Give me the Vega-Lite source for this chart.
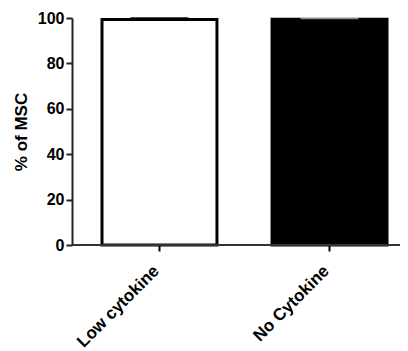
{
  "$schema": "https://vega.github.io/schema/vega-lite/v6.json",
  "autosize": "none",
  "width": 328,
  "height": 227,
  "padding": {"left": 72, "top": 18, "right": 8, "bottom": 106},
  "background": "white",
  "config": {"view": {"stroke": null}, "font": "Liberation Sans"},
  "data": {"values": [
    {"group": "Low cytokine", "value": 99.3, "upper": 100.0},
    {"group": "No Cytokine", "value": 99.5, "upper": 99.9}
  ]},
  "layer": [
    {
      "mark": {"type": "bar", "stroke": "black", "strokeWidth": 3},
      "encoding": {
        "x": {"field": "group", "type": "nominal", "sort": null,
          "scale": {"range": [30, 315], "paddingInner": 0.324, "paddingOuter": 0},
          "axis": {"title": null, "domain": false, "labelAngle": -45, "labelAlign": "right", "labelBaseline": "middle", "labelFont": "Liberation Sans", "labelFontWeight": "bold", "labelFontSize": 17, "labelColor": "black", "tickColor": "black", "tickWidth": 2, "tickSize": 6, "labelPadding": 17, "labelOffset": -3}},
        "y": {"field": "value", "type": "quantitative",
          "scale": {"domain": [0, 100], "nice": false},
          "axis": {"title": "% of MSC", "values": [0, 20, 40, 60, 80, 100], "grid": false, "domain": true, "domainColor": "#222", "domainWidth": 2, "tickColor": "#222", "tickWidth": 2, "tickSize": 6, "labelFont": "Liberation Sans", "labelFontWeight": "bold", "labelFontSize": 16, "labelColor": "black", "labelPadding": 2, "titleFont": "Liberation Sans", "titleFontWeight": "bold", "titleFontSize": 17, "titleColor": "black", "titlePadding": 7}},
        "fill": {"condition": {"test": "datum.group === 'No Cytokine'", "value": "black"}, "value": "white"}
      }
    },
    {
      "mark": {"type": "tick", "thickness": 2, "size": 58},
      "encoding": {
        "x": {"field": "group", "type": "nominal", "sort": null},
        "y": {"field": "upper", "type": "quantitative"},
        "color": {"condition": {"test": "datum.group === 'No Cytokine'", "value": "#cccccc"}, "value": "black"}
      }
    },
    {
      "mark": {"type": "rule", "color": "#333", "strokeWidth": 2},
      "encoding": {"y": {"datum": 0}}
    }
  ]
}
